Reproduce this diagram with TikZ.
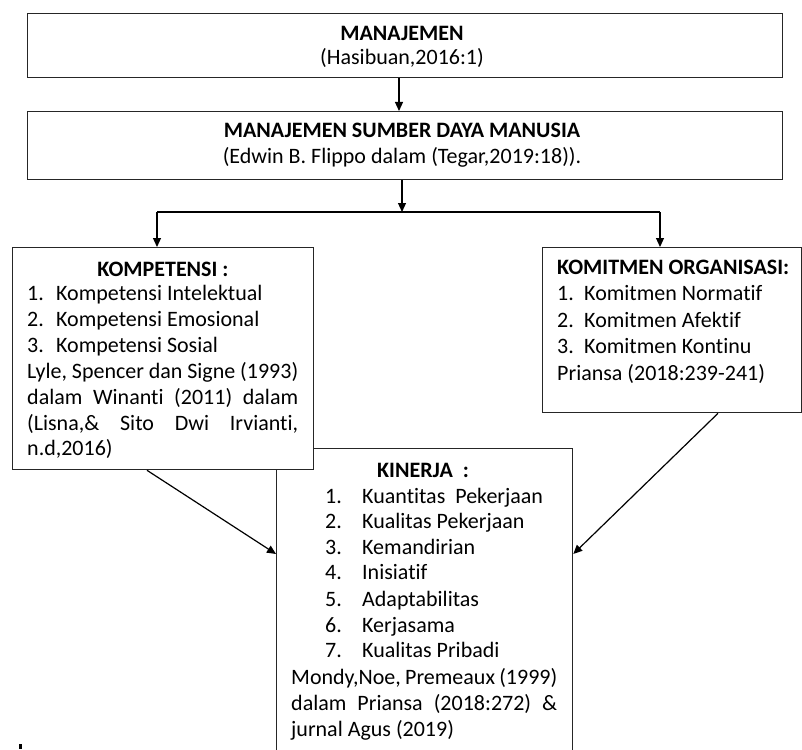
\documentclass[tikz,border=0pt]{standalone}
\usepackage{fontspec}
\setmainfont{Carlito}[Ligatures={NoCommon}]
\usetikzlibrary{arrows.meta}
\begin{document}
\begin{tikzpicture}[x=1pt,y=-1pt,
  box/.style={draw=black!85, fill=white, line width=1.3pt, rectangle, inner sep=0pt, anchor=north west},
  txt/.style={anchor=base west, inner sep=0pt, font=\fontsize{22}{26}\selectfont},
  ctxt/.style={anchor=base, inner sep=0pt, font=\fontsize{22}{26}\selectfont},
  line/.style={line width=1.2pt, draw=black},
  conn/.style={line, -{Triangle[length=9pt,width=8pt]}}]
\useasboundingbox (0,0) rectangle (802,749);
\clip (0,0) rectangle (802,749);

% boxes (KINERJA first, so KOMPETENSI lies over it)
\node[box, minimum width=296pt, minimum height=320pt] (kin) at (276,448) {};
\node[box, minimum width=755pt, minimum height=64pt] (man) at (27,13) {};
\node[box, minimum width=755pt, minimum height=68pt] (msdm) at (27,111) {};
\node[box, minimum width=301pt, minimum height=222pt] (komp) at (12,247) {};
\node[box, minimum width=259pt, minimum height=165pt] (komit) at (542,247) {};

% texts: top boxes
\node[ctxt] (t1) at (402,41) {\bfseries MANAJEMEN};
\node[ctxt] (t2) at (402,65) {(Hasibuan,2016:1)};
\node[ctxt] (t3) at (402,137) {\bfseries MANAJEMEN SUMBER DAYA MANUSIA};
\node[ctxt] (t4) at (402,163) {(Edwin B. Flippo dalam (Tegar,2019:18)).};

% KOMPETENSI
\node[ctxt] (k0) at (163,276) {\bfseries KOMPETENSI :};
\node[txt] (k1n) at (27,300) {1.};
\node[txt] (k1) at (56,300) {Kompetensi Intelektual};
\node[txt] (k2n) at (27,326) {2.};
\node[txt] (k2) at (56,326) {Kompetensi Emosional};
\node[txt] (k3n) at (27,352) {3.};
\node[txt] (k3) at (56,352) {Kompetensi Sosial};
\node[txt] (k4) at (27,378) {\hbox to 271pt{Lyle, Spencer dan Signe (1993)}};
\node[txt] (k5) at (27,404) {\hbox to 271pt{dalam\hfil Winanti\hfil (2011)\hfil dalam}};
\node[txt] (k6) at (27,430) {\hbox to 271pt{(Lisna,\&\hfil Sito\hfil Dwi\hfil Irvianti,}};
\node[txt] (k7) at (27,455) {n.d,2016)};

% KOMITMEN
\node[txt] (o0) at (557,274) {\bfseries KOMITMEN ORGANISASI:};
\node[txt] (o1n) at (557,300) {1.};
\node[txt] (o1) at (584,300) {Komitmen Normatif};
\node[txt] (o2n) at (557,327) {2.};
\node[txt] (o2) at (584,327) {Komitmen Afektif};
\node[txt] (o3n) at (557,353) {3.};
\node[txt] (o3) at (584,353) {Komitmen Kontinu};
\node[txt] (o4) at (557,380) {Priansa (2018:239-241)};

% KINERJA
\node[txt] (j0) at (377,477) {\bfseries KINERJA\ \ :};
\node[txt] (j1n) at (325,503) {1.};
\node[txt] (j1) at (362,503) {Kuantitas\ \ Pekerjaan};
\node[txt] (j2n) at (325,528) {2.};
\node[txt] (j2) at (362,528) {Kualitas Pekerjaan};
\node[txt] (j3n) at (325,554) {3.};
\node[txt] (j3) at (362,554) {Kemandirian};
\node[txt] (j4n) at (325,579) {4.};
\node[txt] (j4) at (362,579) {Inisiatif};
\node[txt] (j5n) at (325,606) {5.};
\node[txt] (j5) at (362,606) {Adaptabilitas};
\node[txt] (j6n) at (325,632) {6.};
\node[txt] (j6) at (362,632) {Kerjasama};
\node[txt] (j7n) at (325,657) {7.};
\node[txt] (j7) at (362,657) {Kualitas Pribadi};
\node[txt] (j8) at (291,684) {\hbox to 266pt{Mondy,Noe,\hfil Premeaux\hfil (1999)}};
\node[txt] (j9) at (291,710) {\hbox to 266pt{dalam\hfil Priansa\hfil (2018:272)\hfil \&}};
\node[txt] (j10) at (291,736) {jurnal Agus (2019)};

% connector coordinates
\coordinate (a1) at (399,0);
\coordinate (jn) at (402,212);
\coordinate (jl) at (157,212);
\coordinate (jr) at (660,212);
\coordinate (ls) at (147,0);
\coordinate (rs) at (718,0);
\coordinate (hy) at (0,554);

% connectors
\draw[conn] (man.south -| a1) -- (msdm.north -| a1);
\draw[conn] (msdm.south -| jn) -- (jn);
\draw[line] (jl) -- (jr);
\draw[conn] (jl) -- (komp.north -| jl);
\draw[conn] (jr) -- (komit.north -| jr);
\draw[conn] (komp.south -| ls) -- (kin.west |- hy);
\draw[conn] (komit.south -| rs) -- (kin.east |- hy);

% small mark at bottom left
\fill (19,744) rectangle (22,749);
\end{tikzpicture}
\end{document}
